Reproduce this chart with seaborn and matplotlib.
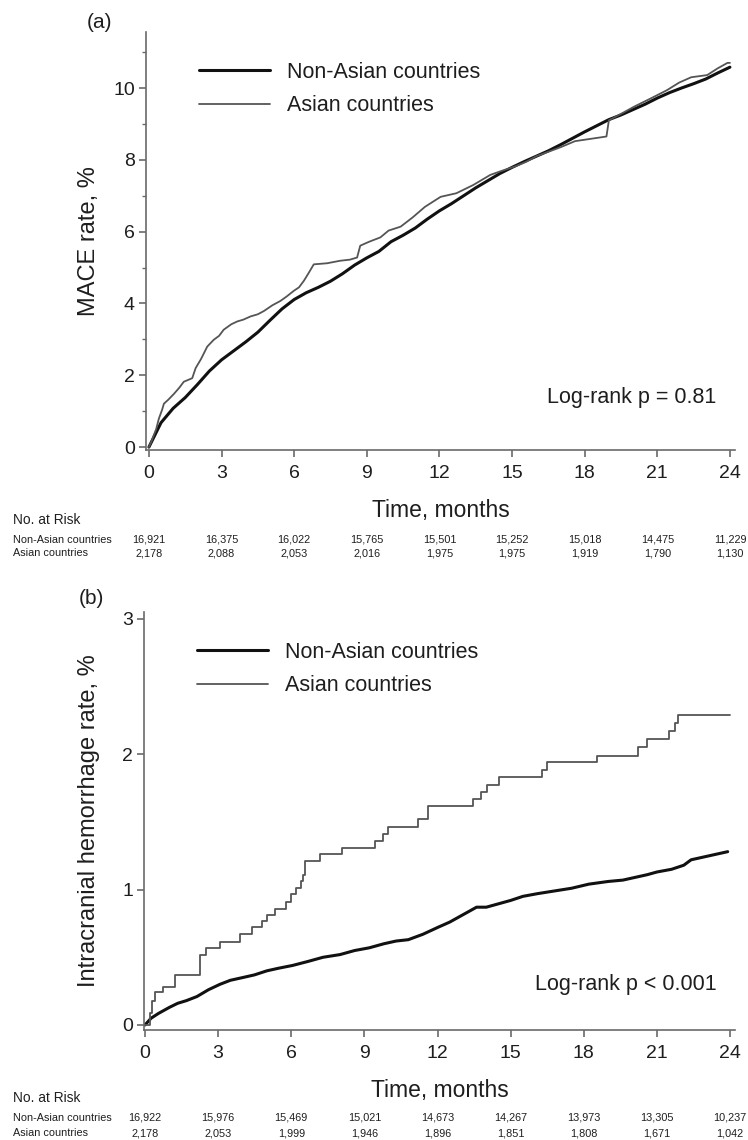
import numpy as np
import pandas as pd
import matplotlib
matplotlib.use('Agg')
import matplotlib.pyplot as plt
import matplotlib.transforms as mtransforms
from matplotlib.ticker import MultipleLocator
import seaborn as sns

# ---- data ----
months = [0, 3, 6, 9, 12, 15, 18, 21, 24]
groups = ['Non-Asian countries', 'Asian countries']

# (a) MACE, non-Asian (smooth curve)
t_mace_non = [0, 0.5, 1, 1.5, 2, 2.5, 3, 3.5, 4, 4.5, 5, 5.5, 6, 6.5, 7, 7.5, 8, 8.5,
              9, 9.5, 10, 10.5, 11, 11.5, 12, 12.5, 13, 13.5, 14, 14.5, 15, 15.5,
              16, 16.5, 17, 17.5, 18, 18.5, 19, 19.5, 20, 20.5, 21, 21.5, 22, 22.5,
              23, 23.5, 24]
y_mace_non = [0, 0.68, 1.08, 1.38, 1.74, 2.12, 2.43, 2.68, 2.93, 3.20, 3.53, 3.85,
              4.11, 4.30, 4.45, 4.62, 4.83, 5.07, 5.27, 5.45, 5.72, 5.90, 6.10, 6.35,
              6.58, 6.78, 7.00, 7.22, 7.42, 7.62, 7.79, 7.95, 8.10, 8.25, 8.42, 8.60,
              8.78, 8.95, 9.12, 9.25, 9.40, 9.55, 9.72, 9.87, 10.0, 10.12, 10.25,
              10.42, 10.58]

# (a) MACE, Asian (jagged curve)
t_mace_asia = [0, 0.1, 0.2, 0.3, 0.41, 0.55, 0.62, 0.8, 1.03, 1.25, 1.44, 1.79, 1.93,
               2.15, 2.41, 2.68, 2.9, 3.09, 3.4, 3.65, 3.9, 4.2, 4.5, 4.75, 5.1, 5.43,
               5.7, 5.98, 6.2, 6.4, 6.6, 6.81, 7.36, 7.9, 8.3, 8.6, 8.73, 9.1, 9.56,
               9.9, 10.4, 10.9, 11.4, 12.05, 12.7, 13.4, 14.1, 14.6, 15.1, 15.6, 16.0,
               16.4, 17.0, 17.6, 18.2, 18.9, 19.0, 19.5, 20.04, 20.7, 21.4, 21.9,
               22.4, 23.06, 23.5, 23.9, 24.0]
y_mace_asia = [0, 0.15, 0.33, 0.5, 0.79, 1.05, 1.21, 1.32, 1.48, 1.65, 1.82, 1.92, 2.2,
               2.45, 2.80, 2.99, 3.1, 3.27, 3.42, 3.50, 3.55, 3.64, 3.70, 3.79, 3.95,
               4.07, 4.2, 4.35, 4.45, 4.63, 4.85, 5.09, 5.12, 5.19, 5.22, 5.28, 5.61,
               5.72, 5.84, 6.03, 6.14, 6.4, 6.69, 6.97, 7.07, 7.3, 7.58, 7.7, 7.81,
               7.95, 8.1, 8.2, 8.35, 8.52, 8.58, 8.65, 9.1, 9.28, 9.48, 9.7, 9.94,
               10.15, 10.3, 10.36, 10.55, 10.7, 10.7]

# (b) intracranial hemorrhage, non-Asian
t_ich_non = [0, 0.25, 0.55, 1.0, 1.34, 1.7, 2.13, 2.6, 3.07, 3.5, 4.0, 4.49, 5.0, 5.5,
             6.06, 6.7, 7.3, 8.0, 8.6, 9.2, 9.8, 10.3, 10.8, 11.4, 12.0, 12.5, 13.1,
             13.6, 14.0, 14.4, 15.0, 15.5, 16.1, 16.8, 17.5, 18.2, 19.0, 19.6, 20.1,
             20.6, 21.0, 21.6, 22.1, 22.4, 22.9, 23.4, 23.9]
y_ich_non = [0, 0.05, 0.085, 0.13, 0.16, 0.18, 0.21, 0.26, 0.30, 0.33, 0.35, 0.37,
             0.40, 0.42, 0.44, 0.47, 0.50, 0.52, 0.55, 0.57, 0.60, 0.62, 0.63, 0.67,
             0.72, 0.76, 0.82, 0.87, 0.87, 0.89, 0.92, 0.95, 0.97, 0.99, 1.01, 1.04,
             1.06, 1.07, 1.09, 1.11, 1.13, 1.15, 1.18, 1.22, 1.24, 1.26, 1.28]

# (b) intracranial hemorrhage, Asian (steps)
t_ich_asia = [0, 0.2, 0.3, 0.4, 0.75, 1.24, 2.26, 2.5, 3.06, 3.9, 4.38, 4.79, 4.99,
              5.33, 5.8, 6.0, 6.2, 6.4, 6.5, 6.56, 7.18, 8.07, 9.44, 9.77, 9.98, 11.2,
              11.62, 13.47, 13.8, 14.02, 14.5, 16.27, 16.5, 18.53, 20.24, 20.6, 21.5,
              21.75, 21.88, 24.0]
y_ich_asia = [0, 0.09, 0.18, 0.24, 0.28, 0.37, 0.52, 0.57, 0.61, 0.67, 0.72, 0.77,
              0.81, 0.86, 0.91, 0.97, 1.01, 1.06, 1.11, 1.21, 1.26, 1.31, 1.36, 1.41,
              1.46, 1.52, 1.62, 1.67, 1.72, 1.77, 1.83, 1.88, 1.94, 1.99, 2.05, 2.11,
              2.17, 2.23, 2.29, 2.29]

risk_mace_non = ['16,921', '16,375', '16,022', '15,765', '15,501', '15,252', '15,018', '14,475', '11,229']
risk_mace_asia = ['2,178', '2,088', '2,053', '2,016', '1,975', '1,975', '1,919', '1,790', '1,130']
risk_ich_non = ['16,922', '15,976', '15,469', '15,021', '14,673', '14,267', '13,973', '13,305', '10,237']
risk_ich_asia = ['2,178', '2,053', '1,999', '1,946', '1,896', '1,851', '1,808', '1,671', '1,042']

# ---- style ----
sns.set_style('ticks')
plt.rcParams['font.family'] = ['Liberation Sans', 'DejaVu Sans']
AXC = '#6a6a6a'
TXT = '#1e1e1e'

fig = plt.figure(figsize=(7.48, 11.4), dpi=100)
W, H = 748, 1140


def px_axes(left, right, top, bottom):
    return fig.add_axes([left / W, 1 - bottom / H, (right - left) / W, (bottom - top) / H])


ax_a = px_axes(146, 735, 32, 450)
ax_b = px_axes(144, 735, 612, 1030)


def draw_panel(ax, t_non, y_non, t_asia, y_asia, asia_steps):
    df_non = pd.DataFrame({'t': t_non, 'y': y_non})
    df_asia = pd.DataFrame({'t': t_asia, 'y': y_asia})
    sns.lineplot(data=df_non, x='t', y='y', ax=ax, color='#111111', linewidth=2.2,
                 estimator=None, sort=False, label=groups[0])
    sns.lineplot(data=df_asia, x='t', y='y', ax=ax, color='#555555', linewidth=1.3,
                 estimator=None, sort=False, label=groups[1],
                 drawstyle='steps-post' if asia_steps else 'default')
    ax.set_xticks(months)
    ax.set_xlabel('Time, months', fontsize=16.5, color=TXT, labelpad=12)
    for s in ['top', 'right']:
        ax.spines[s].set_visible(False)
    for s in ['left', 'bottom']:
        ax.spines[s].set_color(AXC)
        ax.spines[s].set_linewidth(1.2)
    ax.tick_params(axis='both', which='major', length=5, width=1.2, color=AXC,
                   labelsize=14, labelcolor=TXT)
    ax.tick_params(axis='x', pad=6)
    ax.tick_params(axis='y', pad=3)
    ax.tick_params(axis='y', which='minor', length=3, width=1.0, color=AXC)
    leg = ax.legend(loc='upper left', bbox_to_anchor=(0.09, 0.929), frameon=False,
                    fontsize=15.5, handlelength=3.3, handletextpad=0.8,
                    labelspacing=0.58, borderpad=0, borderaxespad=0)
    for txt in leg.get_texts():
        txt.set_color(TXT)


# (a)
draw_panel(ax_a, t_mace_non, y_mace_non, t_mace_asia, y_mace_asia, False)
ax_a.set_xlim(-0.12, 24.21)
ax_a.set_ylim(-0.08, 11.56)
ax_a.set_yticks([0, 2, 4, 6, 8, 10])
ax_a.yaxis.set_minor_locator(MultipleLocator(1))
ax_a.set_ylabel('MACE rate, %', fontsize=17, color=TXT)
ax_a.yaxis.set_label_coords(-0.078, 0.5)
ax_a.text(23.42, 1.39, 'Log-rank p = 0.81', ha='right', va='center', fontsize=15.5, color=TXT)

# (b)
draw_panel(ax_b, t_ich_non, y_ich_non, t_ich_asia, y_ich_asia, True)
ax_b.set_xlim(-0.04, 24.2)
ax_b.set_ylim(-0.037, 3.05)
ax_b.set_yticks([0, 1, 2, 3])
ax_b.set_ylabel('Intracranial hemorrhage rate, %', fontsize=17, color=TXT)
ax_b.yaxis.set_label_coords(-0.0745, 0.5)
ax_b.text(23.43, 0.30, 'Log-rank p < 0.001', ha='right', va='center', fontsize=15.5, color=TXT)

# panel letters
fig.text(100 / W, 1 - 22 / H, '(a)', ha='center', va='center', fontsize=15, color=TXT)
fig.text(91 / W, 1 - 598 / H, '(b)', ha='center', va='center', fontsize=15, color=TXT)


# number-at-risk tables
def risk_table(ax, y_head, y_non, y_asia, non_vals, asia_vals):
    fig.text(12.7 / W, 1 - y_head / H, 'No. at Risk', ha='left', va='center',
             fontsize=9.9, color=TXT)
    fig.text(12.7 / W, 1 - y_non / H, groups[0], ha='left', va='center',
             fontsize=7.8, color=TXT)
    fig.text(12.7 / W, 1 - y_asia / H, groups[1], ha='left', va='center',
             fontsize=7.8, color=TXT)
    trans = mtransforms.blended_transform_factory(ax.transData, fig.transFigure)
    for m, a, b in zip(months, non_vals, asia_vals):
        ax.text(m, 1 - y_non / H, a, transform=trans, ha='center', va='center',
                fontsize=7.8, color=TXT, clip_on=False)
        ax.text(m, 1 - y_asia / H, b, transform=trans, ha='center', va='center',
                fontsize=7.8, color=TXT, clip_on=False)


risk_table(ax_a, 520, 540, 553.5, risk_mace_non, risk_mace_asia)
risk_table(ax_b, 1098, 1118, 1133, risk_ich_non, risk_ich_asia)

fig.savefig('out.png', dpi=100, facecolor='white')
